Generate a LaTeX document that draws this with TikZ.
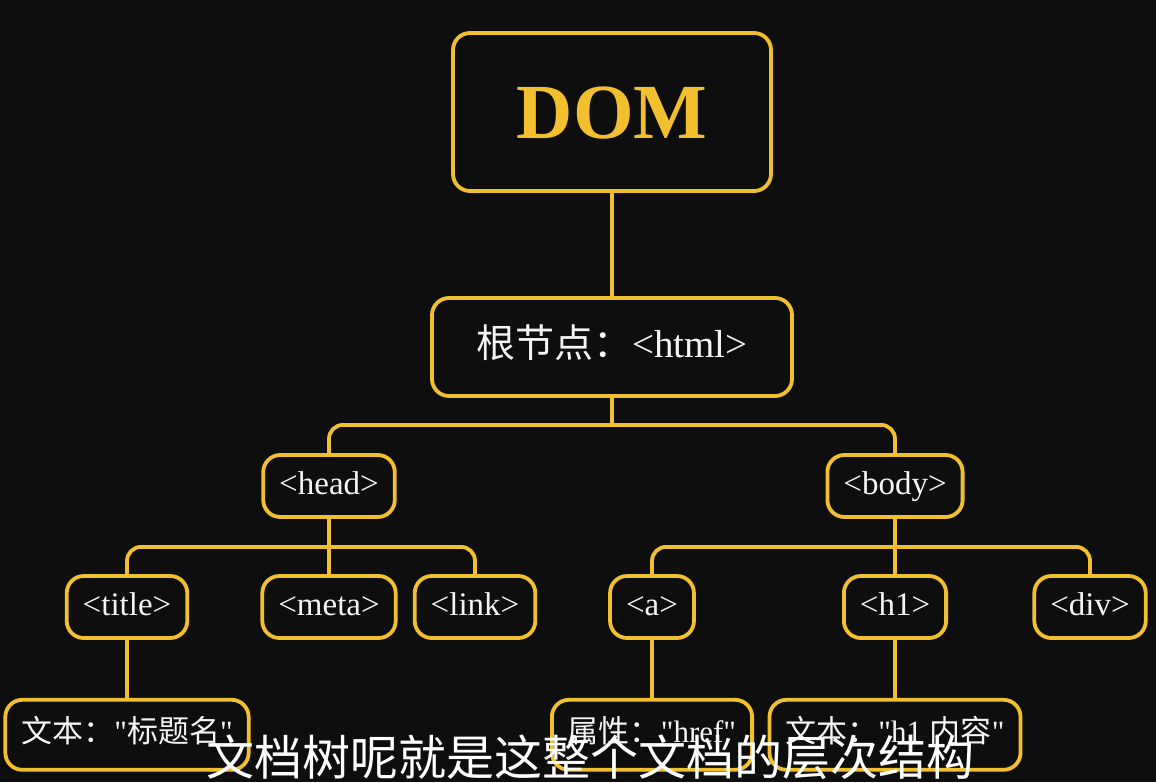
\documentclass[tikz,border=0pt]{standalone}
\usepackage{fontspec}
\setmainfont{Liberation Serif}
\newfontfamily\cjk{Noto Sans CJK SC}
\usetikzlibrary{positioning,calc}
\definecolor{gold}{RGB}{242,192,46}
\definecolor{ink}{RGB}{14,14,14}
\definecolor{paper}{RGB}{244,244,244}
\newcommand{\zh}[1]{{\cjk #1}}
\newcommand{\qt}{\textquotedbl}

\begin{document}
\begin{tikzpicture}[
  x=0.5pt, y=-0.5pt,
  box/.style={draw=gold, line width=1.9pt, fill=ink, rounded corners=8.5pt,
              text=paper, font=\fontsize{16.5}{20}\selectfont,
              text height=11.5pt, text depth=3.5pt,
              minimum height=31pt, inner xsep=8pt},
  leaf/.style={box, font=\fontsize{15.5}{19}\selectfont, minimum height=35pt},
  wire/.style={draw=gold, line width=1.9pt, rounded corners=7pt},
  caption/.style={text=white, font=\cjk\fontsize{24}{28}\selectfont, inner sep=0pt}
]

% Page: the dark frame of the slide.
\useasboundingbox[fill=ink] (0,0) rectangle (1156,782);

% Top of the tree: title box and the root element.
\node[box, font=\fontsize{39}{44}\selectfont\bfseries, text=gold,
      text height=26pt, text depth=0pt,
      minimum width=159pt, minimum height=79pt] (dom) at (612,112) {DOM};
\node[box, font=\fontsize{19.5}{23}\selectfont, text height=14pt, text depth=4pt,
      minimum width=180pt, minimum height=49pt] (root) at (612,347) {\zh{根节点：}<html>};

% Second level.
\node[box] (head) at (329,486) {<head>};
\node[box] (body) at (895,486) {<body>};

% Third level.
\node[box] (title)  at (127,607)  {<title>};
\node[box] (meta)   at (329,607)  {<meta>};
\node[box] (link)   at (475,607)  {<link>};
\node[box] (anchor) at (652,607)  {<a>};
\node[box] (hone)   at (895,607)  {<h1>};
\node[box] (div)    at (1090,607) {<div>};

% Leaves: text and attribute of some elements.
\node[leaf, below=29pt of title]  (titletext)  {\zh{文本：}\qt\zh{标题名}\qt};
\node[leaf, below=29pt of anchor] (anchorattr) {\zh{属性：}\qt href\qt};
\node[leaf, below=29pt of hone]   (honetext)   {\zh{文本：}\qt h1 \zh{内容}\qt};

% Connectors: straight stems, and buses with rounded corners.
\coordinate (rootbus) at ($(root.south)+(0,27)$);
\coordinate (headbus) at ($(head.south)+(0,28)$);
\coordinate (bodybus) at ($(body.south)+(0,28)$);
\draw[wire] (dom) -- (root);
\draw[wire] (root) -- (rootbus);
\draw[wire] (head.north) |- (rootbus) -| (body.north);
\draw[wire] (head) -- (meta);
\draw[wire] (title.north) |- (headbus) -| (link.north);
\draw[wire] (body) -- (hone);
\draw[wire] (anchor.north) |- (bodybus) -| (div.north);
\draw[wire] (title) -- (titletext);
\draw[wire] (anchor) -- (anchorattr);
\draw[wire] (hone) -- (honetext);

% Subtitle over the bottom of the slide.
\node[caption, anchor=base] (subtitle) at (590,775) {文档树呢就是这整个文档的层次结构};

\end{tikzpicture}
\end{document}
